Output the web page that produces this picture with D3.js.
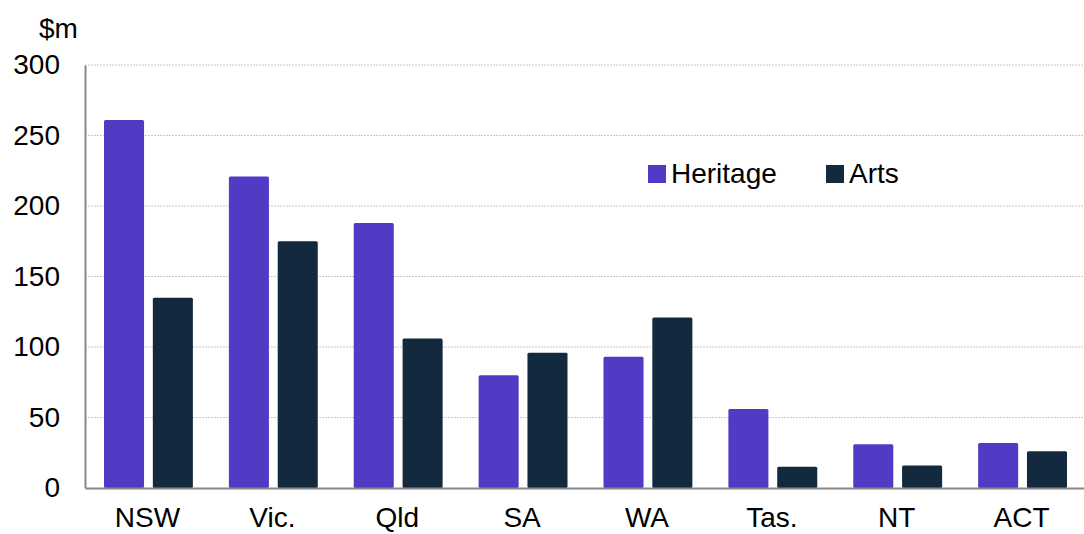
<!DOCTYPE html>
<html>
<head>
<meta charset="utf-8">
<script src="https://cdn.jsdelivr.net/npm/d3@7/dist/d3.min.js"></script>
<style>
  body { margin: 0; background: #fff; }
  text { font-family: "Liberation Sans", Arial, sans-serif; fill: #000; }
</style>
</head>
<body>
<div id="chart"></div>
<script>
const states = ["NSW", "Vic.", "Qld", "SA", "WA", "Tas.", "NT", "ACT"];
const heritage = [261, 221, 188, 80, 93, 56, 31, 32];
const arts = [135, 175, 106, 96, 121, 15, 16, 26];
const yTicks = [0, 50, 100, 150, 200, 250, 300];
const seriesNames = ["Heritage", "Arts"];
const colors = ["#513bc4", "#13293d"];

const width = 1084;
const height = 534;
const margin = { top: 65, right: 0, bottom: 46, left: 85 };
const fontSize = "28px";

const svg = d3.select("#chart")
  .append("svg")
  .attr("width", width)
  .attr("height", height);

const data = states.map((s, i) => ({ state: s, values: [heritage[i], arts[i]] }));

const x = d3.scaleBand()
  .domain(states)
  .range([margin.left, width - margin.right]);

const xSub = d3.scaleBand()
  .domain([0, 1])
  .range([19, x.bandwidth() - 17])
  .paddingInner(0.18);

const y = d3.scaleLinear()
  .domain([0, 300])
  .range([height - margin.bottom, margin.top]);

// gridlines
svg.append("g")
  .selectAll("line")
  .data(yTicks.filter(d => d > 0))
  .enter()
  .append("line")
  .attr("x1", margin.left)
  .attr("x2", width)
  .attr("y1", d => y(d))
  .attr("y2", d => y(d))
  .attr("stroke", "#c8c8c8")
  .attr("stroke-width", 1)
  .attr("stroke-dasharray", "2,1");

// bars
const groups = svg.selectAll(".grp")
  .data(data)
  .enter()
  .append("g")
  .attr("transform", d => `translate(${x(d.state)},0)`);

groups.selectAll("rect")
  .data(d => d.values)
  .enter()
  .append("rect")
  .attr("x", (d, i) => xSub(i))
  .attr("width", xSub.bandwidth())
  .attr("y", d => y(d))
  .attr("height", d => y(0) - y(d))
  .attr("rx", 1.5)
  .attr("fill", (d, i) => colors[i]);

// axes
const yAxis = svg.append("g")
  .attr("transform", `translate(${margin.left},0)`)
  .call(d3.axisLeft(y).tickValues(yTicks).tickSize(0).tickPadding(25));
yAxis.select(".domain").attr("stroke", "#888").attr("stroke-width", 2);
yAxis.selectAll("text").style("font-size", fontSize).attr("font-family", null);

const xAxis = svg.append("g")
  .attr("transform", `translate(0,${y(0)})`)
  .call(d3.axisBottom(x).tickSize(0).tickPadding(19));
xAxis.select(".domain").attr("stroke", "#888").attr("stroke-width", 2);
xAxis.selectAll("text").style("font-size", fontSize).attr("font-family", null);

svg.append("text")
  .attr("x", 39)
  .attr("y", 38)
  .style("font-size", fontSize)
  .text("$m");

// legend
const legendX = [648, 826];
const legend = svg.selectAll(".legend")
  .data(seriesNames)
  .enter()
  .append("g")
  .attr("transform", (d, i) => `translate(${legendX[i]},165)`);

legend.append("rect")
  .attr("width", 18)
  .attr("height", 18)
  .attr("fill", (d, i) => colors[i]);

legend.append("text")
  .attr("x", 23)
  .attr("y", 18)
  .style("font-size", fontSize)
  .text(d => d);
</script>
</body>
</html>
